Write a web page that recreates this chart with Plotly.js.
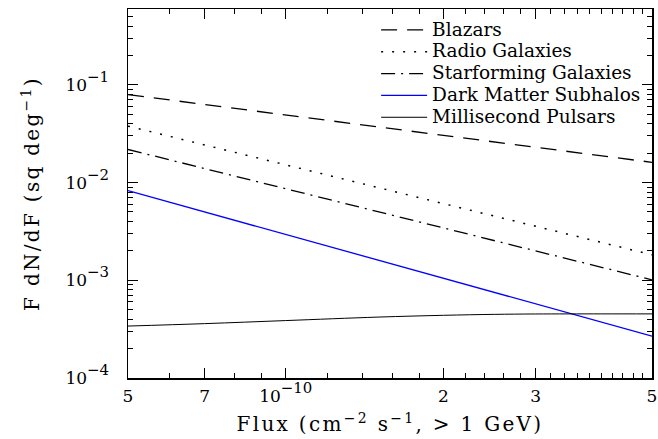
<!DOCTYPE html>
<html>
<head>
<meta charset="utf-8">
<script src="https://cdn.plot.ly/plotly-3.0.1.min.js"></script>
<style>
html,body{margin:0;padding:0;background:#fff;}
#chart{width:658px;height:439px;}
#chart .xtitle, #chart .ytitle {letter-spacing: 2.3px;}
.legendtext {font-size: 18.5px !important;}
.xtick tspan[style*="70%"], .ytick tspan[style*="70%"] {font-size: 88% !important;}
</style>
</head>
<body>
<div id="chart"></div>
<script>
// Data (log-log)
const fluxEnds = [5e-11, 5e-10];
const blazars = [0.0795, 0.0161];
const radioGalaxies = [0.0378, 0.00182];
const starforming = [0.0218, 0.00101];
const darkMatter = [0.00826, 0.000268];
const pulsarFlux = [5e-11, 7e-11, 1e-10, 1.5e-10, 2e-10, 2.5e-10, 3e-10, 4e-10, 5e-10];
const pulsars = [3.40e-4, 3.60e-4, 3.87e-4, 4.20e-4, 4.38e-4, 4.48e-4, 4.52e-4, 4.53e-4, 4.53e-4];

const seriesNames = ["Blazars", "Radio Galaxies", "Starforming Galaxies", "Dark Matter Subhalos", "Millisecond Pulsars"];

const xTickVals = [5e-11, 7e-11, 1e-10, 2e-10, 3e-10, 5e-10];
const xTickText = ["5", "7", "10<sup>\u221210</sup>", "2", "3", "5"];
const xMinor = [6e-11, 8e-11, 9e-11, 1.2e-10, 1.4e-10, 1.6e-10, 1.8e-10, 2.2e-10, 2.4e-10, 2.6e-10, 2.8e-10, 3.2e-10, 3.4e-10, 3.6e-10, 3.8e-10, 4e-10, 4.2e-10, 4.4e-10, 4.6e-10, 4.8e-10];
const yTickVals = [1e-4, 1e-3, 1e-2, 1e-1];
const yTickText = ["10<sup>\u22124</sup>", "10<sup>\u22123</sup>", "10<sup>\u22122</sup>", "10<sup>\u22121</sup>"];
const yMinor = [];
[1e-4, 1e-3, 1e-2, 1e-1].forEach(d => { for (let k = 2; k <= 9; k++) yMinor.push(k * d); });

const font = "DejaVu Serif, serif";

const traces = [
  {x: fluxEnds, y: blazars, name: seriesNames[0], mode: "lines", line: {color: "#000", width: 1.3, dash: "16px,10px"}},
  {x: fluxEnds, y: radioGalaxies, name: seriesNames[1], mode: "lines", line: {color: "#000", width: 1.5, dash: "2px,9px"}},
  {x: fluxEnds, y: starforming, name: seriesNames[2], mode: "lines", line: {color: "#000", width: 1.3, dash: "14px,6px,2px,6px"}},
  {x: fluxEnds, y: darkMatter, name: seriesNames[3], mode: "lines", line: {color: "#0000ff", width: 1.3}},
  {x: pulsarFlux, y: pulsars, name: seriesNames[4], mode: "lines", line: {color: "#000", width: 1, shape: "spline"}}
];

const axisCommon = {
  type: "log",
  showgrid: false,
  zeroline: false,
  showline: true,
  linecolor: "#000",
  linewidth: 1.5,
  mirror: "allticks",
  ticks: "inside",
  ticklen: 10,
  tickwidth: 1.2,
  tickcolor: "#000",
  tickmode: "array",
  automargin: false,
  tickfont: {family: font, size: 17, color: "#000"}
};

const layout = {
  width: 658,
  height: 439,
  margin: {l: 128, r: 6, t: 9, b: 61},
  paper_bgcolor: "#fff",
  plot_bgcolor: "#fff",
  showlegend: true,
  legend: {
    x: 0.4735, xanchor: "left", y: 0.9866, yanchor: "top",
    bgcolor: "rgba(0,0,0,0)",
    font: {family: font, size: 14.5, color: "#000"},
    tracegroupgap: 0,
    itemwidth: 46
  },
  xaxis: Object.assign({}, axisCommon, {
    range: [Math.log10(5e-11), Math.log10(5e-10)],
    tickvals: xTickVals,
    ticktext: xTickText,
    ticklabelstandoff: 2,
    minor: {tickvals: xMinor, ticks: "inside", ticklen: 5, tickwidth: 1, tickcolor: "#000"},
    title: {text: "Flux (cm<sup>\u22122</sup> s<sup>\u22121</sup>, > 1 GeV)", font: {family: font, size: 20, color: "#000"}, standoff: 12}
  }),
  yaxis: Object.assign({}, axisCommon, {
    range: [-4, -0.224],
    tickvals: yTickVals,
    ticktext: yTickText,
    ticklabelstandoff: 14,
    minor: {tickvals: yMinor, ticks: "inside", ticklen: 5, tickwidth: 1, tickcolor: "#000"},
    title: {text: "F dN/dF (sq deg<sup>\u22121</sup>)", font: {family: font, size: 20, color: "#000"}, standoff: 20}
  })
};

Plotly.newPlot("chart", traces, layout, {displayModeBar: false, staticPlot: true});
</script>
</body>
</html>
